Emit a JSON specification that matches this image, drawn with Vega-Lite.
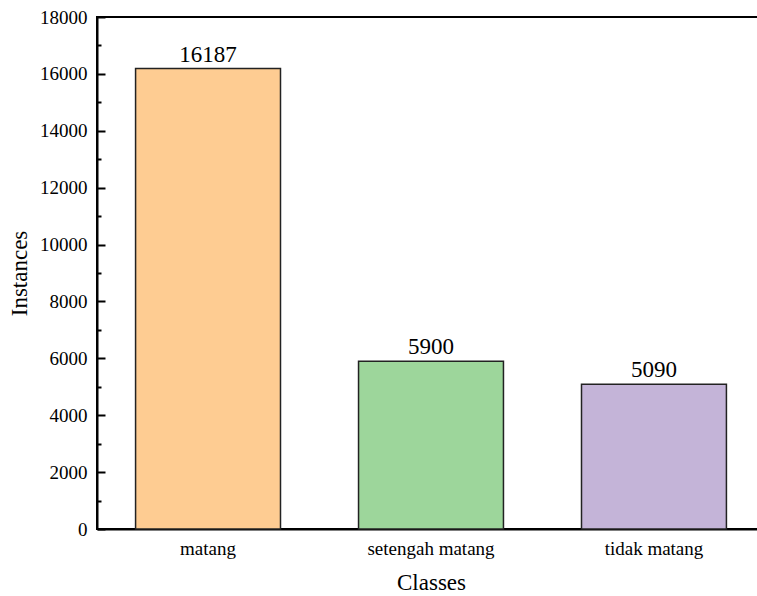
{
  "$schema": "https://vega.github.io/schema/vega-lite/v6.json",
  "autosize": "none",
  "width": 668,
  "height": 512,
  "padding": {"left": 97, "top": 17, "right": 0, "bottom": 67},
  "background": "white",
  "config": {
    "font": "Times New Roman, Liberation Serif, serif",
    "view": {"stroke": "black", "strokeWidth": 2},
    "axis": {"grid": false, "domainColor": "black", "domainWidth": 2, "tickColor": "black", "tickWidth": 2, "labelColor": "black", "titleColor": "black", "labelFont": "Times New Roman, Liberation Serif, serif", "titleFont": "Times New Roman, Liberation Serif, serif", "labelFontSize": 19, "titleFontSize": 23, "titleFontWeight": "normal"}
  },
  "data": {
    "values": [
      {"cls": "matang", "n": 16187, "c": "#FECC92"},
      {"cls": "setengah matang", "n": 5900, "c": "#9DD69B"},
      {"cls": "tidak matang", "n": 5090, "c": "#C4B4D8"}
    ]
  },
  "encoding": {
    "x": {
      "field": "cls", "type": "nominal", "sort": null,
      "scale": {"paddingInner": 0.35, "paddingOuter": 0.173},
      "axis": {"title": "Classes", "labelAngle": 0, "tickSize": -8, "labelPadding": 18, "titlePadding": 13}
    }
  },
  "layer": [
    {
      "mark": {"type": "bar", "stroke": "#222222", "strokeWidth": 1.5},
      "encoding": {
        "y": {
          "field": "n", "type": "quantitative",
          "scale": {"domain": [0, 18000], "nice": false},
          "axis": {"title": "Instances", "orient": "left", "values": [0,2000,4000,6000,8000,10000,12000,14000,16000,18000], "format": "d", "tickSize": -8, "labelPadding": 18, "titlePadding": 8}
        },
        "color": {"field": "c", "type": "nominal", "scale": null}
      }
    },
    {
      "mark": {"type": "text", "baseline": "bottom", "dy": -2, "fontSize": 23, "color": "black", "font": "Times New Roman, Liberation Serif, serif"},
      "encoding": {
        "y": {"field": "n", "type": "quantitative", "axis": null},
        "text": {"field": "n", "type": "quantitative", "format": "d"}
      }
    },
    {
      "mark": {"type": "tick", "opacity": 0},
      "encoding": {
        "y": {"field": "n", "type": "quantitative", "axis": {"orient": "left", "title": null, "values": [1000,3000,5000,7000,9000,11000,13000,15000,17000], "labels": false, "domain": false, "tickSize": -4}}
      }
    }
  ],
  "resolve": {"axis": {"y": "independent"}}
}
